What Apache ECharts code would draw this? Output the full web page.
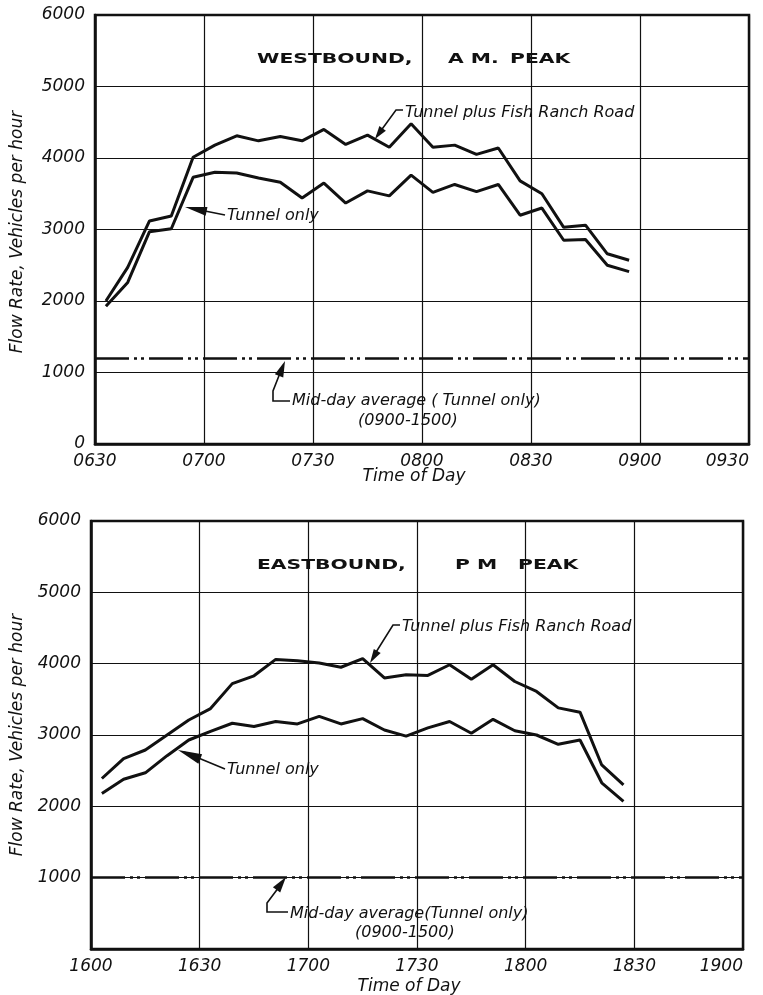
<!DOCTYPE html>
<html>
<head>
<meta charset="utf-8">
<title>Flow rate, westbound AM / eastbound PM peak</title>
<script src="https://cdn.jsdelivr.net/npm/echarts@6/dist/echarts.min.js"></script>
<style>
  html, body { margin: 0; padding: 0; background: #fff; }
  #chart { width: 763px; height: 995px; }
</style>
</head>
<body>
<div id="chart"></div>
<script>
// minutes after the start of each panel (0630 for AM, 1600 for PM)
var sampleMinutes = [3, 9, 15, 21, 27, 33, 39, 45, 51, 57, 63, 69, 75, 81, 87, 93, 99, 105, 111, 117, 123, 129, 135, 141, 147];

// westbound, AM peak
var amTotal = [2000, 2470, 3120, 3190, 4010, 4180, 4310, 4240, 4300, 4240, 4400, 4190, 4320, 4150, 4480, 4150, 4180, 4050, 4140, 3680, 3500, 3030, 3060, 2660, 2570];
var amTunnel = [1925, 2260, 2970, 3010, 3730, 3800, 3790, 3720, 3660, 3440, 3650, 3370, 3540, 3470, 3760, 3520, 3630, 3530, 3630, 3200, 3300, 2850, 2860, 2500, 2410];
var amMidday = 1200;

// eastbound, PM peak
var pmTotal = [2390, 2670, 2790, 3000, 3210, 3370, 3720, 3830, 4060, 4040, 4010, 3950, 4070, 3800, 3845, 3835, 3985, 3780, 3985, 3750, 3610, 3380, 3320, 2580, 2300];
var pmTunnel = [2180, 2380, 2470, 2710, 2930, 3050, 3165, 3120, 3190, 3155, 3260, 3155, 3230, 3070, 2985, 3100, 3190, 3025, 3220, 3060, 3000, 2870, 2930, 2330, 2070];
var pmMidday = 1000;

var amTimeLabels = ['0630', '0700', '0730', '0800', '0830', '0900', '0930'];
var pmTimeLabels = ['1600', '1630', '1700', '1730', '1800', '1830', '1900'];
var amFlowLabels = ['0', '1000', '2000', '3000', '4000', '5000', '6000'];
var pmFlowLabels = ['', '1000', '2000', '3000', '4000', '5000', '6000'];

var ink = '#111';
var italic = 'italic 16px "DejaVu Sans"';

function pairs (xs, ys) {
  return xs.map(function (x, i) { return [x, ys[i]] })
}

function xAxisFor (grid, labels) {
  return {
    gridIndex: grid,
    type: 'value',
    min: 0,
    max: 180,
    interval: 30,
    axisLine: { show: true, lineStyle: { color: ink, width: 2.5 } },
    axisTick: { show: false },
    splitLine: { show: true, lineStyle: { color: ink, width: 1.2 } },
    axisLabel: {
      margin: 9,
      fontFamily: 'DejaVu Sans',
      fontStyle: 'italic',
      fontSize: 17,
      color: ink,
      showMaxLabel: true,
      alignMaxLabel: 'right',
      formatter: function (v) { return labels[v / 30] }
    }
  }
}

function yAxisFor (grid, labels) {
  return {
    gridIndex: grid,
    type: 'value',
    min: 0,
    max: 6000,
    interval: 1000,
    axisLine: { show: true, lineStyle: { color: ink, width: 2.5 } },
    axisTick: { show: false },
    splitLine: { show: true, lineStyle: { color: ink, width: 1.2 } },
    axisLabel: {
      margin: 10,
      fontFamily: 'DejaVu Sans',
      fontStyle: 'italic',
      fontSize: 17,
      color: ink,
      formatter: function (v) { return labels[v / 1000] }
    }
  }
}

function flowSeries (name, grid, values, midday) {
  var s = {
    name: name,
    type: 'line',
    xAxisIndex: grid,
    yAxisIndex: grid,
    data: pairs(sampleMinutes, values),
    symbol: 'none',
    silent: true,
    lineStyle: { color: ink, width: 3 }
  }
  if (midday != null) {
    s.markLine = {
      silent: true,
      symbol: 'none',
      label: { show: false },
      lineStyle: { color: ink, width: 2.5, type: [34, 5, 3, 4, 3, 5] },
      data: [{ yAxis: midday }]
    }
  }
  return s
}

// annotation helpers (pixel positions)
function txt (x, y, text, font, extra) {
  var el = {
    type: 'text',
    x: x,
    y: y,
    silent: true,
    style: {
      text: text,
      font: font || italic,
      fill: ink,
      textAlign: 'left',
      textVerticalAlign: 'middle',
      verticalAlign: 'middle'
    }
  }
  for (var k in extra) el[k] = extra[k]
  return el
}

function leader (points) {
  return {
    type: 'polyline',
    silent: true,
    shape: { points: points },
    style: { stroke: ink, lineWidth: 1.6, fill: null }
  }
}

function head (tip, from, len, half) {
  var dx = tip[0] - from[0]
  var dy = tip[1] - from[1]
  var d = Math.sqrt(dx * dx + dy * dy)
  var ux = dx / d
  var uy = dy / d
  var bx = tip[0] - ux * len
  var by = tip[1] - uy * len
  return {
    type: 'polygon',
    silent: true,
    shape: { points: [tip, [bx - uy * half, by + ux * half], [bx + uy * half, by - ux * half]] },
    style: { fill: ink }
  }
}

var titleFont = 'bold 14px "DejaVu Sans"'
var wide = { scaleX: 1.45 }
var axisNameFont = 'italic 17px "DejaVu Sans"'

var graphics = [
  // top panel
  txt(257, 59, 'WESTBOUND,', titleFont, wide),
  txt(448, 59, 'A M.', titleFont, wide),
  txt(510, 59, 'PEAK', titleFont, wide),
  txt(405, 113, 'Tunnel plus Fish Ranch Road'),
  leader([[403, 110], [396, 110], [377, 136]]),
  head([375, 139], [396, 110], 13, 4),
  txt(227, 216, 'Tunnel only'),
  leader([[225, 215], [190, 208]]),
  head([185, 207], [225, 215], 22, 4.5),
  txt(292, 401, 'Mid-day average ( Tunnel only)'),
  txt(358, 421, '(0900-1500)'),
  leader([[290, 401], [273, 401], [273, 391], [282, 368]]),
  head([285, 361], [273, 391], 16, 4.5),
  txt(18, 232, 'Flow Rate, Vehicles per hour', axisNameFont, { rotation: Math.PI / 2 }),
  txt(414, 477, 'Time of Day', axisNameFont),

  // bottom panel
  txt(257, 565, 'EASTBOUND,', titleFont, wide),
  txt(455, 565, 'P M', titleFont, wide),
  txt(518, 565, 'PEAK', titleFont, wide),
  txt(402, 627, 'Tunnel plus Fish Ranch Road'),
  leader([[400, 625], [393, 625], [373, 657]]),
  head([370, 663], [393, 625], 14, 4),
  txt(227, 770, 'Tunnel only'),
  leader([[225, 769], [184, 752]]),
  head([178, 750], [225, 769], 24, 5),
  txt(290, 914, 'Mid-day average(Tunnel only)'),
  txt(355, 933, '(0900-1500)'),
  leader([[288, 912], [267, 912], [267, 903], [282, 883]]),
  head([286, 877], [267, 903], 16, 4.5),
  txt(18, 735, 'Flow Rate, Vehicles per hour', axisNameFont, { rotation: Math.PI / 2 }),
  txt(409, 987, 'Time of Day', axisNameFont)
]
// centre the rotated and axis-name texts
graphics.forEach(function (g) {
  if (g.type === 'text' && g.style.font === axisNameFont) g.style.textAlign = 'center'
})

var chart = echarts.init(document.getElementById('chart'), null, { renderer: 'canvas' })
chart.setOption({
  backgroundColor: '#fff',
  animation: false,
  grid: [
    { left: 95, top: 15, width: 654, height: 429, outerBoundsMode: 'none', containLabel: false, show: true, borderColor: ink, borderWidth: 2.5, backgroundColor: 'transparent' },
    { left: 91, top: 521, width: 652, height: 428, outerBoundsMode: 'none', containLabel: false, show: true, borderColor: ink, borderWidth: 2.5, backgroundColor: 'transparent' }
  ],
  xAxis: [xAxisFor(0, amTimeLabels), xAxisFor(1, pmTimeLabels)],
  yAxis: [yAxisFor(0, amFlowLabels), yAxisFor(1, pmFlowLabels)],
  series: [
    flowSeries('Tunnel plus Fish Ranch Road', 0, amTotal),
    flowSeries('Tunnel only', 0, amTunnel, amMidday),
    flowSeries('Tunnel plus Fish Ranch Road', 1, pmTotal),
    flowSeries('Tunnel only', 1, pmTunnel, pmMidday)
  ],
  graphic: graphics
})
</script>
</body>
</html>
